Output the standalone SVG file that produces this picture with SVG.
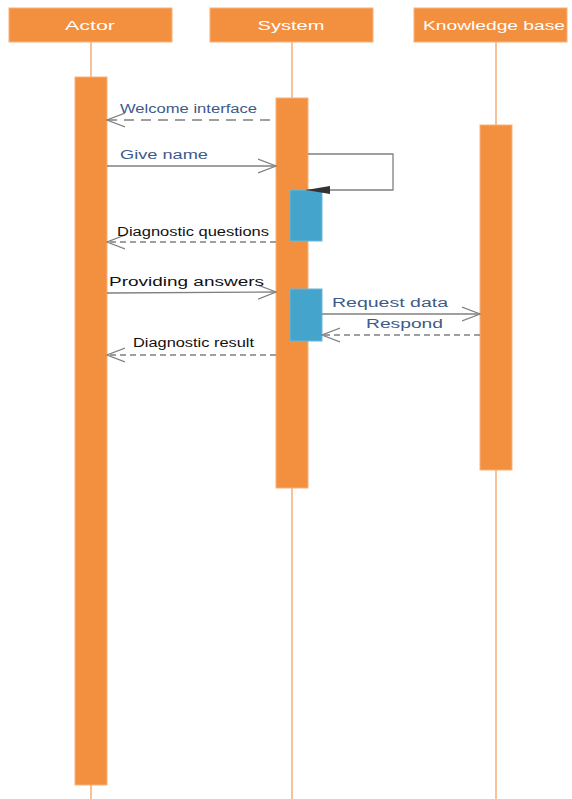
<svg xmlns="http://www.w3.org/2000/svg" width="572" height="799" viewBox="0 0 572 799">
<style>
.hdr{fill:#F39040;stroke:#F8B07A;stroke-width:1}
.htxt{fill:#FFFFFF;font-family:"Liberation Sans",Arial,sans-serif;font-size:13px;text-anchor:middle}
.life{stroke:#F6AC74;stroke-width:1.5}
.act{fill:#F39040;stroke:#F8B07A;stroke-width:1}
.blue{fill:#45A4CC;stroke:#6BB8DA;stroke-width:1}
.msg{stroke:#808080;stroke-width:1.3;fill:none}
.dash{stroke-dasharray:6,4}
.dashl{stroke-dasharray:10,7}
.lbl{font-family:"Liberation Sans",Arial,sans-serif;font-size:12px}
.lb{fill:#3E5A8A}
.lk{fill:#111111}
</style>
<defs>
<marker id="open" markerUnits="userSpaceOnUse" markerWidth="24" markerHeight="20" refX="18" refY="8" orient="auto">
<path d="M0,1 L18,8 L0,15" fill="none" stroke="#808080" stroke-width="1.3"/>
</marker>
<marker id="filled" markerUnits="userSpaceOnUse" markerWidth="28" markerHeight="12" refX="24" refY="5" orient="auto">
<path d="M0,1 L24,5 L0,9 Z" fill="#333333"/>
</marker>
</defs>
<g id="lifelines">
<line class="life" x1="91" y1="42" x2="91" y2="799"/>
<line class="life" x1="292" y1="42" x2="292" y2="799"/>
<line class="life" x1="496" y1="42" x2="496" y2="799"/>
</g>
<g id="actor">
<rect class="hdr" x="9" y="8" width="163" height="34"/>
<text class="htxt" x="90" y="30" textLength="50" lengthAdjust="spacingAndGlyphs">Actor</text>
<rect class="act" x="75" y="77" width="32" height="708"/>
</g>
<g id="system">
<rect class="hdr" x="210" y="8" width="163" height="34"/>
<text class="htxt" x="291" y="30" textLength="67" lengthAdjust="spacingAndGlyphs">System</text>
<rect class="act" x="276" y="98" width="32" height="390"/>
<rect class="blue" x="290" y="190" width="32" height="51"/>
<rect class="blue" x="290" y="289" width="32" height="52"/>
</g>
<g id="knowledge-base">
<rect class="hdr" x="414" y="8" width="153" height="34"/>
<text class="htxt" x="494" y="30" textLength="142" lengthAdjust="spacingAndGlyphs">Knowledge base</text>
<rect class="act" x="480" y="125" width="32" height="345"/>
</g>
<g id="connectors">
<line class="msg dashl" x1="270" y1="120" x2="107" y2="120" marker-end="url(#open)"/>
<line class="msg" x1="107" y1="166" x2="276" y2="166" marker-end="url(#open)"/>
<path class="msg" d="M308,154 H393 V190 H306" stroke="#555555" marker-end="url(#filled)"/>
<line class="msg dash" x1="276" y1="242" x2="107" y2="242" marker-end="url(#open)"/>
<line class="msg" x1="107" y1="293" x2="276" y2="292" marker-end="url(#open)"/>
<line class="msg" x1="322" y1="314" x2="480" y2="314" marker-end="url(#open)"/>
<line class="msg dash" x1="480" y1="335" x2="322" y2="335" marker-end="url(#open)"/>
<line class="msg dash" x1="276" y1="355" x2="107" y2="355" marker-end="url(#open)"/>
</g>
<g id="labels">
<text class="lbl lb" x="120" y="113" textLength="137" lengthAdjust="spacingAndGlyphs">Welcome interface</text>
<text class="lbl lb" x="120" y="159" textLength="88" lengthAdjust="spacingAndGlyphs">Give name</text>
<text class="lbl lk" x="117" y="236" textLength="152" lengthAdjust="spacingAndGlyphs">Diagnostic questions</text>
<text class="lbl lk" x="109" y="286" textLength="155" lengthAdjust="spacingAndGlyphs">Providing answers</text>
<text class="lbl lb" x="332" y="307" textLength="116" lengthAdjust="spacingAndGlyphs">Request data</text>
<text class="lbl lb" x="366" y="328" textLength="77" lengthAdjust="spacingAndGlyphs">Respond</text>
<text class="lbl lk" x="133" y="347" textLength="121" lengthAdjust="spacingAndGlyphs">Diagnostic result</text>
</g>
</svg>
